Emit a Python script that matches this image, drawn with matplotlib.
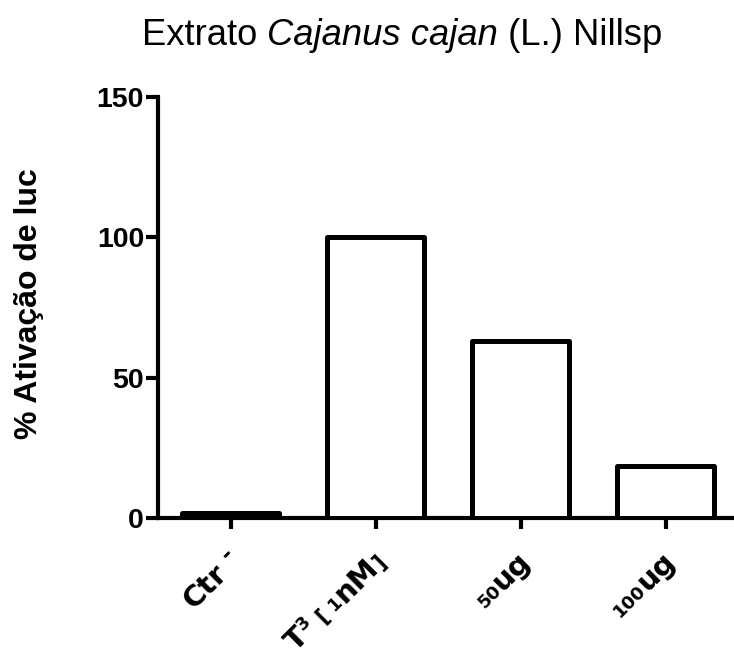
import math
import matplotlib
matplotlib.use("Agg")
import matplotlib.pyplot as plt
from matplotlib.font_manager import FontProperties
from matplotlib.transforms import ScaledTranslation

# data
categories = ["Ctr -", "T3 [1nM]", "50ug", "100ug"]
values = [1.8, 100, 63, 18.4]
yticks = [0, 50, 100, 150]
# tick-label pieces: (text, relative size, raise in em)
tick_segments = [
    [("Ctr", 1.0, 0.0), (" -", 0.8, 0.3)],
    [("T", 1.0, 0.0), ("3", 0.6, 0.35), (" [", 0.75, 0.0), (" 1", 0.6, 0.0), ("nM", 1.0, 0.0), ("]", 0.75, 0.0)],
    [("50", 0.62, 0.0), ("ug", 1.0, 0.0)],
    [("100", 0.62, 0.0), ("ug", 1.0, 0.0)],
]

DPI = 100
fig = plt.figure(figsize=(7.34, 6.55), dpi=DPI)
ax = fig.add_axes([158/734, 1-518/655, 580/734, (518-97)/655])

x = list(range(len(categories)))
ax.bar(x, values, width=0.67, facecolor='white', edgecolor='black',
       linewidth=3.6, joinstyle='round', zorder=3)

ax.set_xlim(-0.5, 3.5)
ax.set_ylim(0, 150)
ax.set_yticks(yticks)
ax.set_yticklabels([str(v) for v in yticks], fontfamily='Liberation Sans',
                   fontweight='bold', fontsize=20.5)
ax.set_xticks(x)
ax.set_xticklabels([])
for sp in ['top', 'right']:
    ax.spines[sp].set_visible(False)
for sp in ['left', 'bottom']:
    ax.spines[sp].set_linewidth(3)
    ax.spines[sp].set_capstyle('projecting')
ax.tick_params(axis='y', length=9, width=3, pad=1)
ax.tick_params(axis='x', length=8, width=3)

# rotated tick labels built from pieces
renderer = fig.canvas.get_renderer()
fs = 21
ang = math.radians(45)
ux, uy = math.cos(ang), math.sin(ang)
vx, vy = -math.sin(ang), math.cos(ang)
end_dx, end_dy = 11, 44
for xi, segs in zip(x, tick_segments):
    props, widths = [], []
    for s, f, r in segs:
        prop = FontProperties(family='DejaVu Sans', weight='bold', size=fs * f)
        w, h, d = renderer.get_text_width_height_descent(s, prop, ismath=False)
        props.append(prop)
        widths.append(w)
    pos = -sum(widths)
    for (s, f, r), prop, w in zip(segs, props, widths):
        rise = r * fs * DPI / 72
        ox = end_dx + pos * ux + rise * vx
        oy = -end_dy + pos * uy + rise * vy
        tr = ax.get_xaxis_transform() + ScaledTranslation(ox / DPI, oy / DPI, fig.dpi_scale_trans)
        ax.text(xi, 0, s, transform=tr, rotation=45, rotation_mode='anchor',
                ha='left', va='baseline', fontproperties=prop, clip_on=False)
        pos += w

fig.text(29/734, 1-304/655, "% Ativação de luc", rotation=90, ha='center',
         va='center', fontfamily='Liberation Sans', fontweight='bold', fontsize=23)

t1 = fig.text(142/734, 1-45/655, "Extrato ", fontfamily='Liberation Sans', fontsize=26.2,
              va='baseline', ha='left')
t2 = ax.annotate("Cajanus cajan", xy=(1, 0), xycoords=t1, va='bottom', ha='left',
                 fontfamily='Liberation Sans', fontstyle='italic', fontsize=26.2,
                 annotation_clip=False)
t3 = ax.annotate(" (L.) Nillsp", xy=(1, 0), xycoords=t2, va='bottom', ha='left',
                 fontfamily='Liberation Sans', fontsize=26.2, annotation_clip=False)

fig.savefig("out.png", dpi=DPI)
